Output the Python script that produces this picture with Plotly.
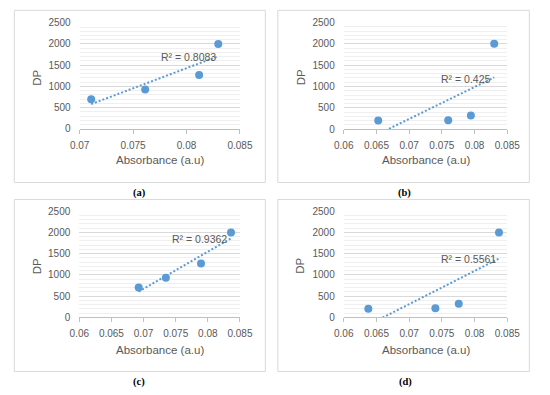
import numpy as np
import plotly.graph_objects as go

# ---- data ----
absorb_a = [0.07108, 0.07613, 0.08118, 0.08297]
dp_a = [700, 930, 1270, 2000]
absorb_b = [0.06527, 0.07597, 0.07943, 0.0830]
dp_b = [200, 210, 320, 2000]
absorb_c = [0.06924, 0.07347, 0.07894, 0.08361]
dp_c = [700, 930, 1270, 2000]
absorb_d = [0.06376, 0.07401, 0.07758, 0.08373]
dp_d = [200, 210, 320, 2000]

r2_labels = ["R\u00b2 = 0.8083", "R\u00b2 = 0.425", "R\u00b2 = 0.9362", "R\u00b2 = 0.5561"]
captions = ["(a)", "(b)", "(c)", "(d)"]

xticks_a = [0.07, 0.075, 0.08, 0.085]
xtext_a = ["0.07", "0.075", "0.08", "0.085"]
xticks_other = [0.06, 0.065, 0.07, 0.075, 0.08, 0.085]
xtext_other = ["0.06", "0.065", "0.07", "0.075", "0.08", "0.085"]
yticks = [0, 500, 1000, 1500, 2000, 2500]
ytext = ["0", "500", "1000", "1500", "2000", "2500"]

W, H = 550, 395
def px(x): return x / W
def py(y): return 1 - y / H

BLUE = "#5B9BD5"
GRAY = "#595959"
FONT = "Liberation Sans"

panels = [
    dict(x=absorb_a, y=dp_a, xt=xticks_a, xl=xtext_a, xr=[0.07, 0.085],
         dom=([72.7, 240], [17.3, 126.7]), box=(4.5, 266.5, 4.5, 182),
         r2pos=(155, 52.5), dpx=28.3, xtitle_y=159.3, cap=(135, 193)),
    dict(x=absorb_b, y=dp_b, xt=xticks_other, xl=xtext_other, xr=[0.06, 0.085],
         dom=([348.3, 519], [17, 127]), box=(279.5, 542, 4.5, 182),
         r2pos=(448, 75), dpx=303.3, xtitle_y=159.3, cap=(412, 193)),
    dict(x=absorb_c, y=dp_c, xt=xticks_other, xl=xtext_other, xr=[0.06, 0.085],
         dom=([72.3, 240], [211.7, 321]), box=(4.5, 266.5, 199.5, 377),
         r2pos=(167.5, 240.7), dpx=28.3, xtitle_y=354.3, cap=(135, 388)),
    dict(x=absorb_d, y=dp_d, xt=xticks_other, xl=xtext_other, xr=[0.06, 0.085],
         dom=([348.3, 519], [211.7, 321]), box=(279.5, 542, 199.5, 377),
         r2pos=(447.5, 261), dpx=303.3, xtitle_y=354.3, cap=(413, 388)),
]

fig = go.Figure()
annotations = []
shapes = []
layout = {}

for i, p in enumerate(panels):
    k = "" if i == 0 else str(i + 1)
    xa, ya = "x" + k, "y" + k
    xs = np.array(p["x"]); ys = np.array(p["y"])
    m, b = np.polyfit(xs, ys, 1)
    tx = np.array([xs.min(), xs.max()])
    fig.add_trace(go.Scatter(x=tx, y=m * tx + b, mode="lines", xaxis=xa, yaxis=ya,
                             line=dict(color=BLUE, width=2, dash="2px,2px"),
                             showlegend=False, hoverinfo="skip"))
    fig.add_trace(go.Scatter(x=p["x"], y=p["y"], mode="markers", xaxis=xa, yaxis=ya,
                             marker=dict(color=BLUE, size=8, line=dict(width=0)),
                             showlegend=False, cliponaxis=False))
    (x0, x1), (y0, y1) = p["dom"]
    layout["xaxis" + k] = dict(
        domain=[px(x0), px(x1)], range=p["xr"], anchor=ya,
        tickvals=p["xt"], ticktext=p["xl"], showgrid=False, zeroline=False,
        showline=True, linecolor="#bfbfbf", linewidth=1,
        ticks="outside", ticklen=4, tickcolor="#bfbfbf",
        tickfont=dict(family=FONT, size=10, color=GRAY), ticklabelstandoff=3,
    )
    layout["yaxis" + k] = dict(
        domain=[py(y1), py(y0)], range=[0, 2500], anchor=xa,
        tickvals=yticks, ticktext=ytext, showgrid=True, gridcolor="#d9d9d9", gridwidth=1,
        minor=dict(dtick=100, tick0=0, showgrid=True, gridcolor="#efefef", gridwidth=1),
        zeroline=False, showline=False, ticks="",
        tickfont=dict(family=FONT, size=10, color=GRAY), ticklabelstandoff=8,
    )
    bx0, bx1, by0, by1 = p["box"]
    shapes.append(dict(type="rect", xref="paper", yref="paper",
                       x0=px(bx0), x1=px(bx1), y0=py(by1), y1=py(by0),
                       line=dict(color="#d9d9d9", width=1), fillcolor="rgba(0,0,0,0)",
                       layer="below"))
    annotations.append(dict(text=r2_labels[i], xref="paper", yref="paper",
                            x=px(p["r2pos"][0]), y=py(p["r2pos"][1]),
                            xanchor="left", yanchor="middle", showarrow=False,
                            font=dict(family=FONT, size=10.5, color=GRAY)))
    annotations.append(dict(text="Absorbance (a.u)", xref="paper", yref="paper",
                            x=px((x0 + x1) / 2), y=py(p["xtitle_y"]),
                            xanchor="center", yanchor="middle", showarrow=False,
                            font=dict(family=FONT, size=11.5, color=GRAY)))
    annotations.append(dict(text="DP", xref="paper", yref="paper",
                            x=px(p["dpx"]), y=py((y0 + y1) / 2 + 2),
                            xanchor="center", yanchor="middle", showarrow=False,
                            textangle=-90,
                            font=dict(family=FONT, size=11.5, color=GRAY)))
    annotations.append(dict(text="<b>" + captions[i] + "</b>", xref="paper", yref="paper",
                            x=px(p["cap"][0]), y=py(p["cap"][1]),
                            xanchor="center", yanchor="middle", showarrow=False,
                            font=dict(family="Liberation Serif", size=10.5, color="black")))

fig.update_layout(width=W, height=H, margin=dict(l=0, r=0, t=0, b=0),
                  paper_bgcolor="white", plot_bgcolor="white",
                  annotations=annotations, shapes=shapes, **layout)
fig.write_html("out.html", config={"displayModeBar": False},
               post_script="document.body.style.margin='0';document.body.style.overflow='hidden';")
